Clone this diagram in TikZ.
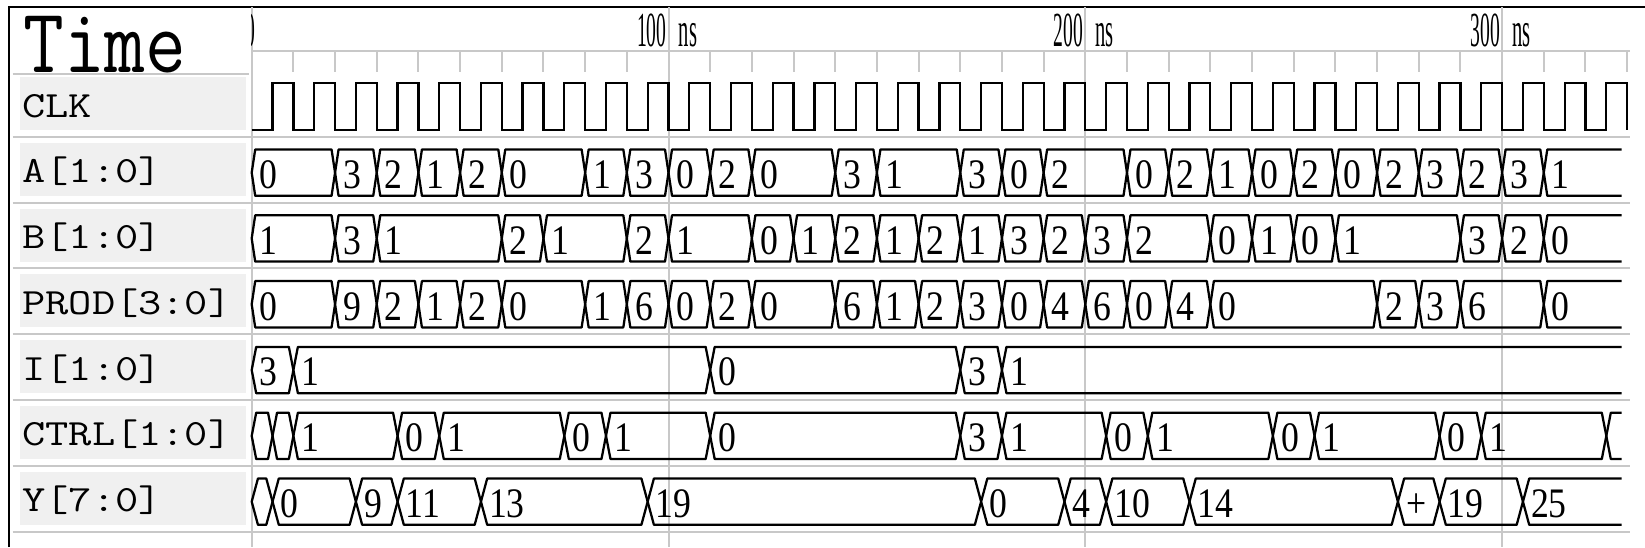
\documentclass[tikz,border=0pt]{standalone}
\usepackage{fontspec}
\usepackage{tikz}
\newfontfamily\wavefont{Liberation Serif}

\definecolor{gridgray}{RGB}{200,200,200}
\definecolor{namefill}{RGB}{240,240,240}

\newcommand{\valtext}[1]{\scalebox{0.85}[1]{#1}}
\newcommand{\axistext}[1]{\scalebox{0.4}[1]{#1}}
\newcommand{\sigtext}[1]{\scalebox{1.22}[1]{#1}}
\def\tend{328.7}

% one bus row: #1 name, #2 top y, #3 slope (ns), #4 closed values, #5 open last value
\newcommand{\busrow}[5]{%
  \foreach \ta/\tb/\v [count=\i] in {#4} {
    \draw[bus] (\ta,#2+23.15) -- (\ta+#3,#2) -- (\tb-#3,#2) -- (\tb,#2+23.15)
      -- (\tb-#3,#2+46.3) -- (\ta+#3,#2+46.3) -- cycle;
    \node[val] (#1-\i) at (\ta+1.9,#2+39) {\valtext{\v}};
  }
  \foreach \ta/\v in {#5} {
    \draw[bus] (\tend,#2) -- (\ta+#3,#2) -- (\ta,#2+23.15) -- (\ta+#3,#2+46.3) -- (\tend,#2+46.3);
    \node[val] (#1-last) at (\ta+1.9,#2+39) {\valtext{\v}};
  }
}

\tikzset{
  bus/.style={line width=1.7pt, line join=round},
  clock/.style={line width=1.7pt, line join=miter},
  gridline/.style={line width=1.5pt, gridgray},
  tick/.style={line width=1.5pt, gridgray},
  namebox/.style={fill=namefill, draw=none},
  val/.style={anchor=base west, inner sep=0pt, font=\wavefont\fontsize{31.5}{32}\selectfont},
  axis/.style={inner sep=0pt, font=\wavefont\fontsize{36.75}{38}\selectfont},
  signame/.style={anchor=base west, inner sep=0pt, font=\ttfamily\fontsize{27.75}{30}\selectfont},
}

\begin{document}
\begin{tikzpicture}[x=0.75pt,y=0.75pt,yscale=-1,xscale=1]
\useasboundingbox (0,0) rectangle (1645,547);

% name column
\fill[namebox] (20,77) rectangle (246,130);
\foreach \s in {136.7,202.5,268.3,334.1,399.9,465.7}
  \fill[namebox] (20,\s+6) rectangle (246,\s+59);

% row separators
\draw[gridline] (12.7,74) -- (249,74);
\foreach \s in {136.7,202.5,268.3,334.1,399.9,465.7,531.5}
  \draw[gridline] (12.7,\s) -- (1630,\s);

% frame
\draw[line width=1.5pt] (9.3,547) -- (9.3,7.3) -- (1645,7.3);

% Text Node
\node[anchor=base west, inner sep=0pt, font=\ttfamily\fontsize{69}{70}\selectfont] (timehdr) at (23,72) {\scalebox{0.86}[1]{Time}};
\node[signame] (nCLK) at (22,117.3) {\sigtext{CLK}};
\node[signame] (nA) at (22,182.7) {\sigtext{A[1:0]}};
\node[signame] (nB) at (22,248.5) {\sigtext{B[1:0]}};
\node[signame] (nPROD) at (22,314.3) {\sigtext{PROD[3:0]}};
\node[signame] (nI) at (22,380.1) {\sigtext{I[1:0]}};
\node[signame] (nCTRL) at (22,445.9) {\sigtext{CTRL[1:0]}};
\node[signame] (nY) at (22,511.7) {\sigtext{Y[7:0]}};

\begin{scope}[shift={(251.7,0)}, xscale=4.168]
% time grid
\foreach \t in {0,100,200,300} \draw[gridline] (\t,7.3) -- (\t,547);
\draw[gridline] (0,51.3) -- (330.7,51.3);
\foreach \t in {10,20,...,330} \draw[tick] (\t,51.3) -- (\t,72);
% time labels
\begin{scope}
  \clip (0,8) rectangle (5,60);
  \node[axis, anchor=base east] (t0) at (1,46.7) {\axistext{0}};
\end{scope}
\foreach \t in {100,200,300} {
  \node[axis, anchor=base east] (t\t) at (\t-0.4,46.7) {\axistext{\t}};
  \node[axis, anchor=base west] (ns\t) at (\t+2.4,46.7) {\scalebox{0.42}[1]{ns}};
}

% CLK
\draw[clock] (0,130) \foreach \k in {0,...,32} { -- (10*\k+5,130) -- (10*\k+5,83.3) -- (10*\k+10,83.3) -- (10*\k+10,130) };

% A[1:0]
\busrow{A}{149.5}{0.84}{0/20/0, 20/30/3, 30/40/2, 40/50/1, 50/60/2, 60/80/0, 80/90/1, 90/100/3,
  100/110/0, 110/120/2, 120/140/0, 140/150/3, 150/170/1, 170/180/3, 180/190/0, 190/210/2,
  210/220/0, 220/230/2, 230/240/1, 240/250/0, 250/260/2, 260/270/0, 270/280/2, 280/290/3,
  290/300/2, 300/310/3}{310/1}
% B[1:0]
\busrow{B}{215.3}{0.84}{0/20/1, 20/30/3, 30/60/1, 60/70/2, 70/90/1, 90/100/2, 100/120/1,
  120/130/0, 130/140/1, 140/150/2, 150/160/1, 160/170/2, 170/180/1, 180/190/3, 190/200/2,
  200/210/3, 210/230/2, 230/240/0, 240/250/1, 250/260/0, 260/290/1, 290/300/3, 300/310/2}{310/0}
% PROD[3:0]
\busrow{P}{281.1}{0.84}{0/20/0, 20/30/9, 30/40/2, 40/50/1, 50/60/2, 60/80/0, 80/90/1, 90/100/6,
  100/110/0, 110/120/2, 120/140/0, 140/150/6, 150/160/1, 160/170/2, 170/180/3, 180/190/0,
  190/200/4, 200/210/6, 210/220/0, 220/230/4, 230/270/0, 270/280/2, 280/290/3, 290/310/6}{310/0}
% I[1:0]
\busrow{I}{346.9}{1.08}{0/10/3, 10/110/1, 110/170/0, 170/180/3}{180/1}
% CTRL[1:0]
\busrow{C}{412.7}{1.08}{0/5/{}, 5/10/{}, 10/35/1, 35/45/0, 45/75/1, 75/85/0, 85/110/1, 110/170/0,
  170/180/3, 180/205/1, 205/215/0, 215/245/1, 245/255/0, 255/285/1, 285/295/0, 295/325/1}{325/{}}
% Y[7:0]
\busrow{Y}{478.5}{1.5}{0/5/{}, 5/25/0, 25/35/9, 35/55/11, 55/95/13, 95/175/19, 175/195/0,
  195/205/4, 205/225/10, 225/275/14, 275/285/+, 285/305/19}{305/25}
\end{scope}

\end{tikzpicture}
\end{document}
